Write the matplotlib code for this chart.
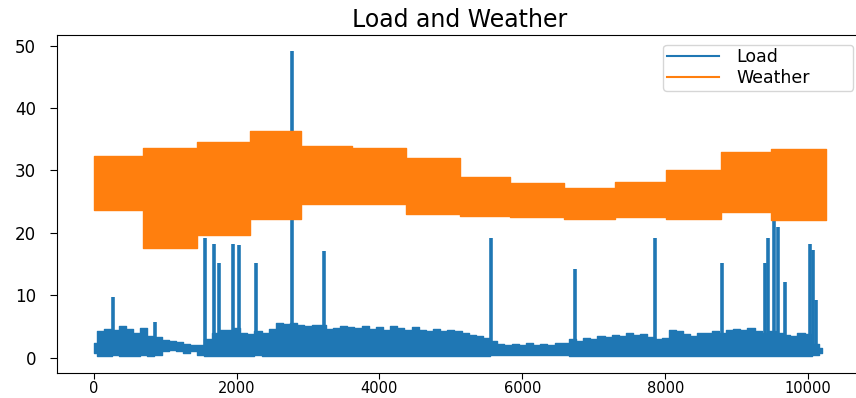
import matplotlib
matplotlib.use("Agg")
import matplotlib.pyplot as plt

# Load: rough envelope of the dense hourly series, read every 100 steps
load_x = list(range(0, 10300, 100))
load_high = [2.3, 4.2, 4.6, 4.4, 5.0, 4.6, 4.0, 4.7, 3.5, 3.3,
             2.8, 2.6, 2.5, 2.2, 2.0, 2.1, 3.0, 4.0, 4.5, 4.4,
             4.8, 4.0, 3.8, 4.2, 4.0, 4.6, 5.5, 5.4, 5.6, 5.2,
             5.0, 5.3, 5.2, 4.6, 4.8, 5.1, 4.9, 4.7, 5.0, 4.6,
             4.9, 4.5, 5.0, 4.8, 4.4, 4.9, 4.5, 4.3, 4.6, 4.2,
             4.4, 4.3, 4.0, 3.6, 3.4, 3.2, 2.6, 2.2, 2.0, 2.2,
             2.1, 2.3, 2.0, 2.2, 2.0, 2.3, 2.4, 3.0, 2.6, 3.2,
             3.0, 3.5, 3.3, 3.6, 3.4, 4.0, 3.6, 3.8, 3.3, 3.0,
             3.2, 4.4, 4.2, 3.8, 3.5, 3.9, 4.0, 4.2, 4.0, 4.5,
             4.6, 4.4, 4.7, 4.2, 4.0, 4.3, 4.0, 3.6, 3.5, 4.0,
             3.8, 2.2, 1.5]
load_low = [0.8, 0.3, 0.2, 0.4, 0.2, 0.3, 0.2, 0.4, 0.3, 0.5,
            1.1, 1.2, 1.1, 0.8, 1.0, 0.5, 0.3, 0.2, 0.3, 0.2,
            0.2, 0.3, 0.2, 0.4, 0.2, 0.2, 0.2, 0.3, 0.2, 0.2,
            0.3, 0.2, 0.2, 0.3, 0.2, 0.2, 0.3, 0.2, 0.2, 0.3,
            0.2, 0.2, 0.3, 0.2, 0.2, 0.3, 0.2, 0.2, 0.3, 0.2,
            0.2, 0.3, 0.2, 0.2, 0.3, 0.2, 0.4, 0.4, 0.5, 0.4,
            0.4, 0.5, 0.4, 0.4, 0.5, 0.4, 0.4, 0.3, 0.2, 0.3,
            0.2, 0.2, 0.3, 0.2, 0.2, 0.3, 0.2, 0.2, 0.3, 0.2,
            0.3, 0.2, 0.2, 0.3, 0.2, 0.2, 0.3, 0.2, 0.2, 0.3,
            0.2, 0.2, 0.3, 0.2, 0.2, 0.3, 0.2, 0.2, 0.3, 0.2,
            0.2, 0.4, 0.8]

# Load peaks
spike_x = [270, 852, 1564, 1690, 1760, 1946, 2030, 2272, 2770, 3217,
           5568, 6742, 7859, 8799, 9395, 9441, 9520, 9575, 9683,
           10024, 10070, 10107]
spike_top = [9.8, 5.7, 19.1, 18.2, 15.1, 18.2, 18.1, 15.1, 49.2, 17.1,
             19.1, 14.2, 19.1, 15.1, 15.1, 19.1, 24.0, 21.0, 12.2,
             18.2, 17.3, 9.2]

# Weather: monthly blocks of the daily swing (low / high)
weather_edges = [0, 684, 1448, 2189, 2901, 3621, 4376, 5122, 5834,
                 6578, 7300, 8007, 8781, 9479, 10255]
weather_low = [23.6, 17.5, 19.7, 22.3, 24.7, 24.7, 23.1, 22.7, 22.5,
               22.3, 22.6, 22.2, 23.4, 22.0]
weather_high = [32.3, 33.6, 34.6, 36.4, 33.9, 33.6, 32.0, 28.9, 28.0,
                27.2, 28.1, 30.1, 32.9, 33.4]

fig = plt.figure(figsize=(8.56, 3.98), dpi=100)
ax = fig.add_axes([0.0666, 0.0628, 0.9416, 0.849])

ax.fill_between(load_x, load_low, load_high, step='mid',
                color='C0', lw=1.0, zorder=2)
ax.vlines(spike_x, 0.5, spike_top, color='C0', lw=2.6, zorder=2)

ax.fill_between(weather_edges, weather_low + [weather_low[-1]],
                weather_high + [weather_high[-1]], step='post',
                color='C1', lw=1.0, zorder=3)

# legend proxies
ax.plot([], [], color='C0', label='Load')
ax.plot([], [], color='C1', label='Weather')

ax.set_xlim(-513, 10768)
ax.set_ylim(-2.46, 51.7)
ax.set_xticks([0, 2000, 4000, 6000, 8000, 10000])
ax.set_yticks([0, 10, 20, 30, 40, 50])
ax.tick_params(axis='y', labelsize=12, length=5, pad=10)
ax.tick_params(axis='x', labelsize=10.5, length=4, pad=1.5)
ax.spines['right'].set_visible(False)

ax.set_title('Load and Weather', fontsize=17, pad=6)
ax.legend(loc='upper left', bbox_to_anchor=(0.752, 0.5, 0.2357, 0.4707),
          mode='expand', borderaxespad=0, fontsize=12.5,
          handlelength=3.0, handletextpad=1.04, labelspacing=0.15,
          borderpad=0.2)

fig.savefig('out.png', dpi=100)
